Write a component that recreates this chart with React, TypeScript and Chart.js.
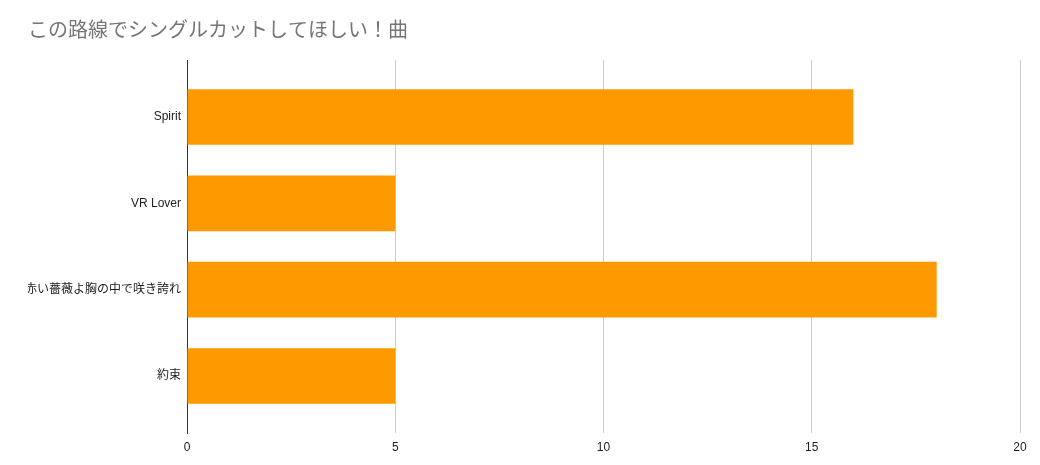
import { useRef, useEffect } from 'react';
import { Chart, registerables } from 'chart.js';

Chart.register(...registerables);

const TITLE = 'この路線でシングルカットしてほしい！曲';
const songs = ['Spirit', 'VR Lover', '赤い薔薇よ胸の中で咲き誇れ', '約束'];
const votes = [16, 5, 18, 5];
const xTicks = [0, 5, 10, 15, 20];

const FONT = "Arial, 'Liberation Sans', 'Noto Sans CJK JP', sans-serif";

export default function App() {
  const canvasRef = useRef<HTMLCanvasElement>(null);

  useEffect(() => {
    if (!canvasRef.current) return;
    document.body.style.margin = '0';

    const chart = new Chart(canvasRef.current, {
      type: 'bar',
      data: {
        datasets: [
          {
            label: 'votes',
            data: votes.map((v, i) => ({ x: v, y: i })),
            backgroundColor: '#ff9900',
            borderWidth: 0,
            barPercentage: 1,
            categoryPercentage: 0.645,
          },
        ],
      },
      options: {
        indexAxis: 'y',
        animation: false,
        responsive: false,
        devicePixelRatio: 1,
        layout: { padding: { left: 28, right: 20, top: 0, bottom: 0 } },
        plugins: {
          legend: { display: false },
          tooltip: { enabled: false },
          title: {
            display: true,
            text: TITLE,
            align: 'start',
            color: '#757575',
            font: { family: FONT, size: 20, weight: 'normal', lineHeight: 1.2 },
            padding: { top: 19, bottom: 17 },
          },
        },
        scales: {
          x: {
            type: 'linear',
            min: 0,
            max: 20,
            afterBuildTicks: (scale) => {
              scale.ticks = xTicks.map((v) => ({ value: v }));
            },
            afterFit: (scale) => {
              scale.height = 32;
            },
            grid: { color: '#cccccc', lineWidth: 1, drawTicks: false },
            border: { display: false },
            ticks: {
              color: '#222222',
              padding: 7,
              font: { family: FONT, size: 12 },
            },
          },
          y: {
            type: 'linear',
            offset: false,
            reverse: true,
            min: -0.66,
            max: songs.length - 1 + 0.66,
            afterBuildTicks: (scale) => {
              scale.ticks = songs.map((_, i) => ({ value: i }));
            },
            afterFit: (scale) => {
              scale.width = 159;
            },
            grid: { display: false, drawTicks: false, offset: false },
            border: { display: true, color: '#333333', width: 1 },
            ticks: {
              color: '#222222',
              padding: 6,
              font: { family: FONT, size: 12 },
              callback: (value) => songs[Number(value)] ?? '',
            },
          },
        },
      },
    });

    return () => {
      chart.destroy();
    };
  }, []);

  return (
    <div style={{ width: 1040, height: 465, background: '#fff' }}>
      <canvas ref={canvasRef} width={1040} height={465} />
    </div>
  );
}
